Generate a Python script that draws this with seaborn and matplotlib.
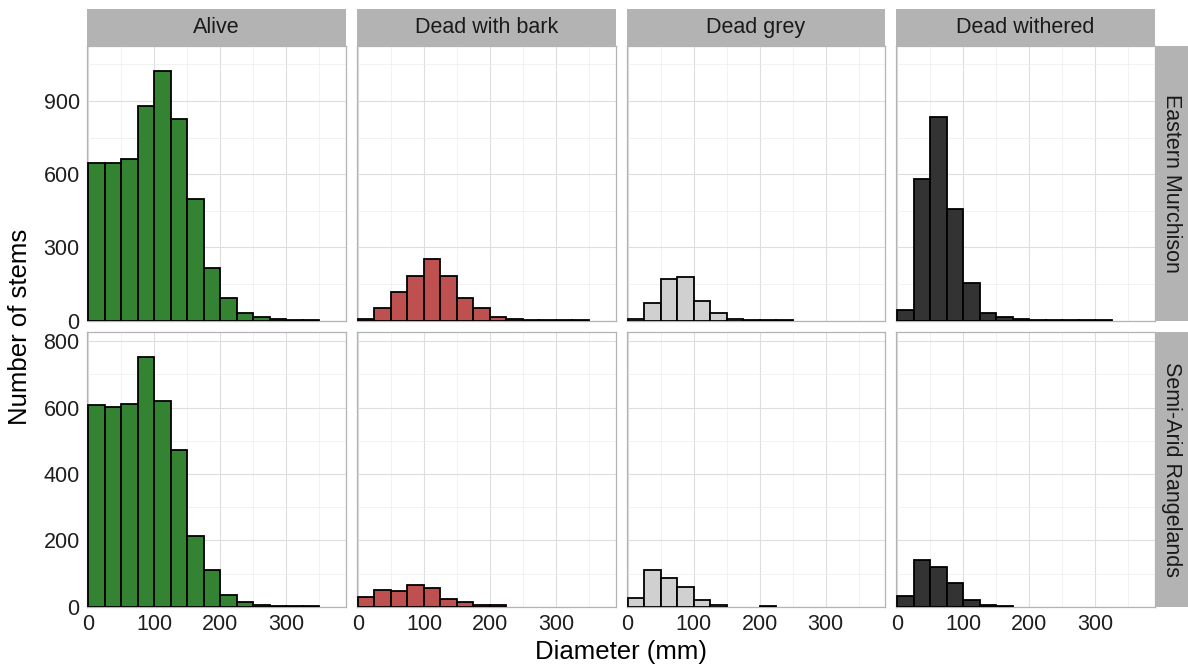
import numpy as np
import pandas as pd
import matplotlib
matplotlib.use("Agg")
import matplotlib.pyplot as plt
from matplotlib.patches import Rectangle
from matplotlib.ticker import MultipleLocator
import seaborn as sns

# binned stem counts (25 mm bins starting at 0)
bin_left = [0, 25, 50, 75, 100, 125, 150, 175, 200, 225, 250, 275, 300, 325]

regions = ["Eastern Murchison", "Semi-Arid Rangelands"]
statuses = ["Alive", "Dead with bark", "Dead grey", "Dead withered"]

alive_em = [645, 644, 661, 878, 1023, 828, 499, 217, 91, 33, 14, 5, 2, 1]
bark_em = [5, 50, 119, 181, 252, 181, 91, 50, 14, 5, 2, 1, 1, 1]
grey_em = [5, 72, 169, 177, 79, 30, 5, 2, 1, 1, 0, 0, 0, 0]
withered_em = [44, 582, 836, 457, 153, 30, 14, 5, 3, 2, 1, 1, 1, 0]

alive_sa = [608, 602, 612, 752, 620, 471, 212, 110, 35, 15, 5, 3, 2, 3]
bark_sa = [28, 50, 48, 65, 55, 22, 14, 6, 4, 0, 0, 0, 0, 0]
grey_sa = [27, 110, 85, 60, 20, 5, 0, 0, 2, 0, 0, 0, 0, 0]
withered_sa = [32, 140, 120, 70, 20, 6, 3, 0, 0, 0, 0, 0, 0, 0]

counts = {
    ("Eastern Murchison", "Alive"): alive_em,
    ("Eastern Murchison", "Dead with bark"): bark_em,
    ("Eastern Murchison", "Dead grey"): grey_em,
    ("Eastern Murchison", "Dead withered"): withered_em,
    ("Semi-Arid Rangelands", "Alive"): alive_sa,
    ("Semi-Arid Rangelands", "Dead with bark"): bark_sa,
    ("Semi-Arid Rangelands", "Dead grey"): grey_sa,
    ("Semi-Arid Rangelands", "Dead withered"): withered_sa,
}

colors = {"Alive": "#338333", "Dead with bark": "#BF5050",
          "Dead grey": "#D0D0D0", "Dead withered": "#333333"}

rows = []
for (reg, st), vals in counts.items():
    for left, c in zip(bin_left, vals):
        rows.append({"region": reg, "status": st, "mid": left + 12.5, "count": c})
df = pd.DataFrame(rows)

edges = bin_left + [bin_left[-1] + 25]

sns.set_style("white")
plt.rcParams["font.family"] = ["Liberation Sans", "DejaVu Sans"]

fig, axes = plt.subplots(2, 4, figsize=(11.88, 6.69), dpi=100, sharex=True)
fig.subplots_adjust(left=0.0735, right=0.9722, top=0.9312, bottom=0.0931,
                    wspace=0.0426, hspace=0.042)

ylims = [1125, 827]
ymajor = [300, 200]

for i, reg in enumerate(regions):
    for j, st in enumerate(statuses):
        ax = axes[i, j]
        sub = df[(df.region == reg) & (df.status == st)]
        sns.histplot(data=sub, x="mid", weights="count", bins=edges,
                     color=colors[st], alpha=1, edgecolor="black",
                     linewidth=1.3, ax=ax, zorder=3)
        for p in list(ax.patches):
            if p.get_height() == 0:
                p.remove()
        ax.set_xlim(-1.5, 390.5)
        ax.set_ylim(0, ylims[i])
        ax.xaxis.set_major_locator(MultipleLocator(100))
        ax.xaxis.set_minor_locator(MultipleLocator(50))
        ax.yaxis.set_major_locator(MultipleLocator(ymajor[i]))
        ax.yaxis.set_minor_locator(MultipleLocator(ymajor[i] / 2))
        ax.grid(which="major", color="#DEDEDE", linewidth=0.8, zorder=0)
        ax.grid(which="minor", color="#EDEDED", linewidth=0.5, zorder=0)
        ax.set_axisbelow(True)
        for s in ax.spines.values():
            s.set_color("#B3B3B3")
            s.set_linewidth(0.9)
        ax.set_xlabel("")
        ax.set_ylabel("")
        ax.tick_params(which="minor", length=0)
        ax.tick_params(which="major", labelsize=15.5, colors="#B3B3B3",
                       labelcolor="#1E1E1E", length=3.5, width=0.8, pad=2)
        if j != 0:
            ax.tick_params(axis="y", length=0, labelleft=False)
        else:
            ax.tick_params(axis="y", labelleft=True)
        if i != 1:
            ax.tick_params(axis="x", length=0, labelbottom=False)
        else:
            ax.tick_params(axis="x", labelbottom=True)

        # column strips
        if i == 0:
            ax.add_patch(Rectangle((0, 1.0), 1, 37.4 / 274, transform=ax.transAxes,
                                   facecolor="#B3B3B3", edgecolor="none",
                                   clip_on=False))
            ax.text(0.5, 1 + 18.7 / 274, st, transform=ax.transAxes,
                    ha="center", va="center", fontsize=15.5, color="#1A1A1A")
        # row strips
        if j == 3:
            ax.add_patch(Rectangle((1.0, 0), 33 / 258.5, 1, transform=ax.transAxes,
                                   facecolor="#B3B3B3", edgecolor="none",
                                   clip_on=False))
            ax.text(1 + 16.5 / 258.5, 0.5, reg, transform=ax.transAxes,
                    ha="center", va="center", rotation=-90, fontsize=15.5,
                    color="#1A1A1A")

fig.text(0.017, 0.512, "Number of stems", rotation=90, ha="center", va="center",
         fontsize=18.5, color="black")
fig.text(0.523, 0.025, "Diameter (mm)", ha="center", va="center",
         fontsize=18.5, color="black")

fig.savefig("out.png", dpi=100)
